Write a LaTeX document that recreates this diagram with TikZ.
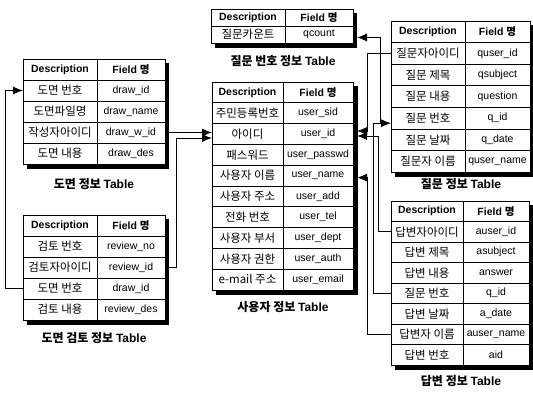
\documentclass[tikz,border=0pt]{standalone}
\usepackage{fontspec}
\setmainfont{Liberation Sans}
\newfontfamily\kr{Noto Sans CJK KR}
\usetikzlibrary{positioning, arrows.meta}
\tikzset{
	cellD/.style={draw, line width=.8pt, fill=white, anchor=north west, inner sep=0pt, outer sep=0pt, font=\kr\fontsize{11.5}{12}\selectfont},
	cellF/.style={draw, line width=.8pt, fill=white, anchor=north west, inner sep=0pt, outer sep=0pt, font=\fontsize{10.5}{12}\selectfont},
	headD/.style={cellD, font=\bfseries\fontsize{10.5}{12}\selectfont},
	headF/.style={cellF, font=\bfseries\fontsize{10.5}{12}\selectfont},
	shade/.style={fill=black},
	tcaption/.style={font=\kr\bfseries\fontsize{12}{13}\selectfont},
	fkey/.style={line width=.9pt, -{Latex[length=10pt,width=8pt]}}
}

\begin{document}
\begin{tikzpicture}[x=1pt, y=-1pt]
\useasboundingbox (0,0) rectangle (533,395);

% 도면 정보
\begin{scope}[cellD/.append style={minimum width=74pt, minimum height=21pt},
              cellF/.append style={minimum width=68pt, minimum height=21pt}]
\fill[shade] (27,63) rectangle (169,169);
\node[headD] (plan-d0) at (23,59) {Description};
\node[headF] (plan-f0) at (plan-d0.north east) {Field {\kr 명}};
\foreach \d/\f [count=\i] in {도면 번호/draw\_id, 도면파일명/draw\_name, 작성자아이디/draw\_w\_id, 도면 내용/draw\_des}{
	\node[cellD] (plan-d\i) at (23,59+21*\i) {\d};
	\node[cellF] (plan-f\i) at (plan-d\i.north east) {\f};
}
\node[tcaption] (plan-cap) at (94,184) {도면 정보 {\rmfamily Table}};
\end{scope}

% 도면 검토 정보
\begin{scope}[cellD/.append style={minimum width=74pt, minimum height=21pt},
              cellF/.append style={minimum width=68pt, minimum height=21pt}]
\fill[shade] (27,219) rectangle (169,325);
\node[headD] (rev-d0) at (23,215) {Description};
\node[headF] (rev-f0) at (rev-d0.north east) {Field {\kr 명}};
\foreach \d/\f [count=\i] in {검토 번호/review\_no, 검토자아이디/review\_id, 도면 번호/draw\_id, 검토 내용/review\_des}{
	\node[cellD] (rev-d\i) at (23,215+21*\i) {\d};
	\node[cellF] (rev-f\i) at (rev-d\i.north east) {\f};
}
\node[tcaption] (rev-cap) at (94,338) {도면 검토 정보 {\rmfamily Table}};
\end{scope}

% 질문 번호 정보
\begin{scope}[cellD/.append style={minimum width=74pt, minimum height=17pt},
              cellF/.append style={minimum width=68pt, minimum height=17pt}]
\fill[shade] (215,13) rectangle (357,48);
\node[headD] (cnt-d0) at (211,9) {Description};
\node[headF] (cnt-f0) at (cnt-d0.north east) {Field {\kr 명}};
\node[cellD] (cnt-d1) at (211,26) {질문카운트};
\node[cellF] (cnt-f1) at (cnt-d1.north east) {qcount};
\node[tcaption] (cnt-cap) at (283,61) {질문 번호 정보 {\rmfamily Table}};
\end{scope}

% 사용자 정보
\begin{scope}[cellD/.append style={minimum width=71pt, minimum height=20.8pt},
              cellF/.append style={minimum width=70pt, minimum height=20.8pt}]
\fill[shade] (216,86) rectangle (358,295);
\node[headD] (user-d0) at (212,82) {Description};
\node[headF] (user-f0) at (user-d0.north east) {Field {\kr 명}};
\foreach \d/\f [count=\i] in {주민등록번호/user\_sid, 아이디/user\_id, 패스워드/user\_passwd, 사용자 이름/user\_name, 사용자 주소/user\_add, 전화 번호/user\_tel, 사용자 부서/user\_dept, 사용자 권한/user\_auth, e-mail 주소/user\_email}{
	\node[cellD] (user-d\i) at (212,82+20.8*\i) {\d};
	\node[cellF] (user-f\i) at (user-d\i.north east) {\f};
}
\node[tcaption] (user-cap) at (283,307) {사용자 정보 {\rmfamily Table}};
\end{scope}

% 질문 정보
\begin{scope}[cellD/.append style={minimum width=74pt, minimum height=21.6pt},
              cellF/.append style={minimum width=65pt, minimum height=21.6pt}]
\fill[shade] (395,25) rectangle (534,177);
\node[headD] (que-d0) at (391,21) {Description};
\node[headF] (que-f0) at (que-d0.north east) {Field {\kr 명}};
\foreach \d/\f [count=\i] in {질문자아이디/quser\_id, 질문 제목/qsubject, 질문 내용/question, 질문 번호/q\_id, 질문 날짜/q\_date, 질문자 이름/quser\_name}{
	\node[cellD] (que-d\i) at (391,21+21.6*\i) {\d};
	\node[cellF] (que-f\i) at (que-d\i.north east) {\f};
}
\node[tcaption] (que-cap) at (461,184) {질문 정보 {\rmfamily Table}};
\end{scope}

% 답변 정보
\begin{scope}[cellD/.append style={minimum width=72pt, minimum height=20.5pt},
              cellF/.append style={minimum width=66pt, minimum height=20.5pt}]
\fill[shade] (395,205) rectangle (533,370);
\node[headD] (ans-d0) at (391,201) {Description};
\node[headF] (ans-f0) at (ans-d0.north east) {Field {\kr 명}};
\foreach \d/\f [count=\i] in {답변자아이디/auser\_id, 답변 제목/asubject, 답변 내용/answer, 질문 번호/q\_id, 답변 날짜/a\_date, 답변자 이름/auser\_name, 답변 번호/aid}{
	\node[cellD] (ans-d\i) at (391,201+20.5*\i) {\d};
	\node[cellF] (ans-f\i) at (ans-d\i.north east) {\f};
}
\node[tcaption] (ans-cap) at (461,381) {답변 정보 {\rmfamily Table}};
\end{scope}

% keys
\draw[fkey] (rev-d3.west) -- ++(-18,0) |- (plan-d1.west);
\draw[fkey] (plan-f3.east) -- (plan-f3.east -| user-d2.west);
\draw[fkey] (rev-f2.east) -- ++(11,0) |- ([yshift=-4pt]user-d2.west);
\draw[fkey] (que-d1.west) -- ++(-24,0) |- ([xshift=4pt,yshift=3pt]user-f2.east);
\draw[fkey] (ans-d1.west) -- ++(-13,0) |- ([xshift=4pt,yshift=-2pt]user-f2.east);
\draw[fkey] (ans-d4.west) -- ++(-18,0) |- ([yshift=-5pt]que-d4.west);
\coordinate (qbr) at ([xshift=-11pt,yshift=-5pt]que-d4.west);
\draw[fkey] (qbr) |- ([xshift=4pt,yshift=-3pt]cnt-f1.east);
\draw[fkey] (ans-d6.west) -- ++(-24,0) |- ([xshift=4pt,yshift=-2pt]user-f4.east);
\end{tikzpicture}
\end{document}
